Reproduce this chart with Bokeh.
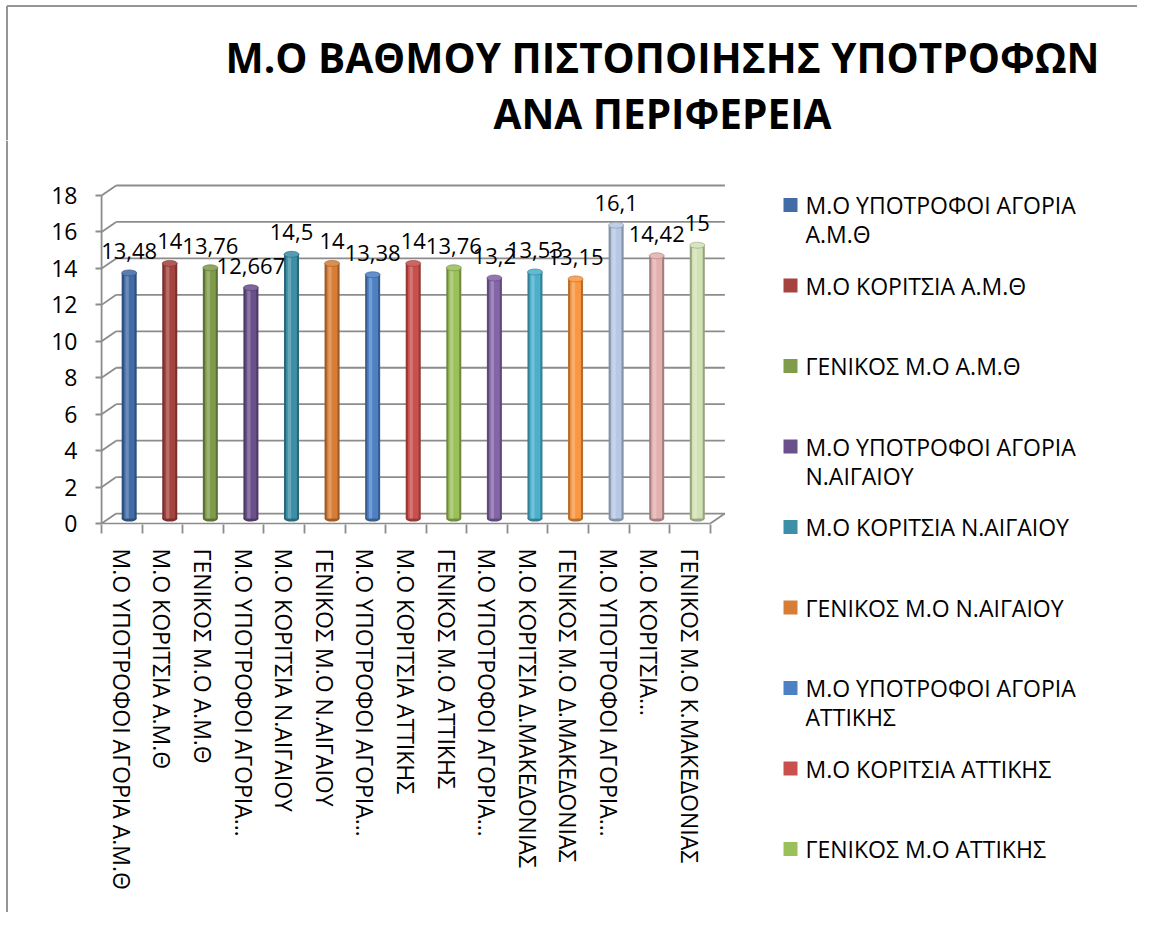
from bokeh.plotting import figure
from bokeh.layouts import column, row
from bokeh.models import Range1d, LinearAxis, FixedTicker, ColumnDataSource
from bokeh.embed import file_html
from bokeh.resources import INLINE
from bokeh.core.properties import value

# ---------------- data ----------------
title_lines = ["Μ.Ο ΒΑΘΜΟΥ ΠΙΣΤΟΠΟΙΗΣΗΣ ΥΠΟΤΡΟΦΩΝ", "ΑΝΑ ΠΕΡΙΦΕΡΕΙΑ"]

categories = [
    "Μ.Ο ΥΠΟΤΡΟΦΟΙ ΑΓΟΡΙΑ Α.Μ.Θ",
    "Μ.Ο ΚΟΡΙΤΣΙΑ Α.Μ.Θ",
    "ΓΕΝΙΚΟΣ Μ.Ο Α.Μ.Θ",
    "Μ.Ο ΥΠΟΤΡΟΦΟΙ ΑΓΟΡΙΑ Ν.ΑΙΓΑΙΟΥ",
    "Μ.Ο ΚΟΡΙΤΣΙΑ Ν.ΑΙΓΑΙΟΥ",
    "ΓΕΝΙΚΟΣ Μ.Ο Ν.ΑΙΓΑΙΟΥ",
    "Μ.Ο ΥΠΟΤΡΟΦΟΙ ΑΓΟΡΙΑ ΑΤΤΙΚΗΣ",
    "Μ.Ο ΚΟΡΙΤΣΙΑ ΑΤΤΙΚΗΣ",
    "ΓΕΝΙΚΟΣ Μ.Ο ΑΤΤΙΚΗΣ",
    "Μ.Ο ΥΠΟΤΡΟΦΟΙ ΑΓΟΡΙΑ Δ.ΜΑΚΕΔΟΝΙΑΣ",
    "Μ.Ο ΚΟΡΙΤΣΙΑ Δ.ΜΑΚΕΔΟΝΙΑΣ",
    "ΓΕΝΙΚΟΣ Μ.Ο Δ.ΜΑΚΕΔΟΝΙΑΣ",
    "Μ.Ο ΥΠΟΤΡΟΦΟΙ ΑΓΟΡΙΑ Κ.ΜΑΚΕΔΟΝΙΑΣ",
    "Μ.Ο ΚΟΡΙΤΣΙΑ Κ.ΜΑΚΕΔΟΝΙΑΣ",
    "ΓΕΝΙΚΟΣ Μ.Ο Κ.ΜΑΚΕΔΟΝΙΑΣ",
]

axis_labels = [
    "Μ.Ο ΥΠΟΤΡΟΦΟΙ ΑΓΟΡΙΑ Α.Μ.Θ",
    "Μ.Ο ΚΟΡΙΤΣΙΑ Α.Μ.Θ",
    "ΓΕΝΙΚΟΣ Μ.Ο Α.Μ.Θ",
    "Μ.Ο ΥΠΟΤΡΟΦΟΙ ΑΓΟΡΙΑ…",
    "Μ.Ο ΚΟΡΙΤΣΙΑ Ν.ΑΙΓΑΙΟΥ",
    "ΓΕΝΙΚΟΣ Μ.Ο Ν.ΑΙΓΑΙΟΥ",
    "Μ.Ο ΥΠΟΤΡΟΦΟΙ ΑΓΟΡΙΑ…",
    "Μ.Ο ΚΟΡΙΤΣΙΑ ΑΤΤΙΚΗΣ",
    "ΓΕΝΙΚΟΣ Μ.Ο ΑΤΤΙΚΗΣ",
    "Μ.Ο ΥΠΟΤΡΟΦΟΙ ΑΓΟΡΙΑ…",
    "Μ.Ο ΚΟΡΙΤΣΙΑ Δ.ΜΑΚΕΔΟΝΙΑΣ",
    "ΓΕΝΙΚΟΣ Μ.Ο Δ.ΜΑΚΕΔΟΝΙΑΣ",
    "Μ.Ο ΥΠΟΤΡΟΦΟΙ ΑΓΟΡΙΑ…",
    "Μ.Ο ΚΟΡΙΤΣΙΑ…",
    "ΓΕΝΙΚΟΣ Μ.Ο Κ.ΜΑΚΕΔΟΝΙΑΣ",
]

values = [13.48, 14, 13.76, 12.667, 14.5, 14, 13.38, 14, 13.76, 13.2,
          13.53, 13.15, 16.1, 14.42, 15]

colors = ["#416CA6", "#A5433F", "#809C4B", "#6B518B", "#3D8FA8", "#D87D36",
          "#4E80C4", "#C9504D", "#9BBF59", "#8465A8", "#4BB0CC", "#F99742",
          "#B7C8E4", "#E4AFAF", "#D2E2B4"]

# legend shows the first 9 series (wrapped as in the original)
legend_lines = [
    ["Μ.Ο ΥΠΟΤΡΟΦΟΙ ΑΓΟΡΙΑ", "Α.Μ.Θ"],
    ["Μ.Ο ΚΟΡΙΤΣΙΑ Α.Μ.Θ"],
    ["ΓΕΝΙΚΟΣ Μ.Ο Α.Μ.Θ"],
    ["Μ.Ο ΥΠΟΤΡΟΦΟΙ ΑΓΟΡΙΑ", "Ν.ΑΙΓΑΙΟΥ"],
    ["Μ.Ο ΚΟΡΙΤΣΙΑ Ν.ΑΙΓΑΙΟΥ"],
    ["ΓΕΝΙΚΟΣ Μ.Ο Ν.ΑΙΓΑΙΟΥ"],
    ["Μ.Ο ΥΠΟΤΡΟΦΟΙ ΑΓΟΡΙΑ", "ΑΤΤΙΚΗΣ"],
    ["Μ.Ο ΚΟΡΙΤΣΙΑ ΑΤΤΙΚΗΣ"],
    ["ΓΕΝΙΚΟΣ Μ.Ο ΑΤΤΙΚΗΣ"],
]

y_ticks = [0, 2, 4, 6, 8, 10, 12, 14, 16, 18]

# ---------------- layout / styling constants ----------------
FONT = "Open Sans"
GRID = "#8c8c8c"
BORDER = "#959595"
DX, DY = 0.36, 0.55      # 3D depth offset (x in category units, y in value units)
BW = 0.37                # cylinder width

PAGE_W = 1137
TOP_H = 140              # height of the title band
EDGE_W = 8               # strip holding the left border line
CHART_W = 736            # right edge of the chart block (px)
FRAME_L, FRAME_T = 95, 183
FRAME_W, FRAME_H = 631, 341
BOTTOM_B = 388
CHART_H = (FRAME_T - TOP_H) + FRAME_H + BOTTOM_B

TITLE_X = 662
TITLE_Y = [57, 113]

LEG_SQ_X = 790            # legend square centre (px)
LEG_TEXT_X = 805          # legend text left edge (px)
LEG_FIRST = 204.5         # first legend entry line (px)
LEG_PITCH = 80.5          # entry pitch (px)
LEG_LINE = 29             # wrapped-line pitch (px)


def mix(hex_color, other, f):
    h = hex_color.lstrip("#")
    r, g, b = (int(h[i:i + 2], 16) for i in (0, 2, 4))
    o = other.lstrip("#")
    r2, g2, b2 = (int(o[i:i + 2], 16) for i in (0, 2, 4))
    return "#%02x%02x%02x" % (round(r + (r2 - r) * f), round(g + (g2 - g) * f),
                              round(b + (b2 - b) * f))


def no_frame_align(f):
    if "frame_align" in f.properties():
        f.frame_align = False
    return f


def blank_fig(width, height, x_range, y_range):
    f = figure(width=width, height=height, x_range=x_range, y_range=y_range,
               x_axis_type=None, y_axis_type=None, min_border=0,
               tools="", toolbar_location=None, output_backend="svg")
    f.outline_line_color = None
    f.grid.visible = False
    f.background_fill_color = "white"
    f.border_fill_color = "white"
    return no_frame_align(f)


# ---------------- title band ----------------
top = blank_fig(PAGE_W, TOP_H, Range1d(0, PAGE_W), Range1d(TOP_H, 0))
top.segment(x0=[6.5, 6.5], y0=[5.5, 5.5], x1=[PAGE_W, 6.5], y1=[5.5, TOP_H],
            line_color=BORDER, line_width=2)
top.text(x=[TITLE_X] * len(title_lines), y=TITLE_Y, text=title_lines,
         text_align="center", text_baseline="middle", text_font=value(FONT),
         text_font_size="40.5px", text_font_style="bold", text_color="black")

# ---------------- left border strip ----------------
edge = blank_fig(EDGE_W, CHART_H, Range1d(0, EDGE_W), Range1d(TOP_H + CHART_H, TOP_H))
edge.segment(x0=[6.5], y0=[TOP_H], x1=[6.5], y1=[TOP_H + CHART_H],
             line_color=BORDER, line_width=2)

# ---------------- main chart ----------------
n = len(values)
idx = list(range(1, n + 1))
src = ColumnDataSource(dict(
    x=[k + DX / 2 for k in idx],
    xh=[k + DX / 2 - 0.05 for k in idx],
    bottom=[DY / 2] * n,
    top=[v + DY / 2 for v in values],
    color=colors,
    dark=[mix(c, "#000000", 0.28) for c in colors],
    light=[mix(c, "#ffffff", 0.22) for c in colors],
    cap=[mix(c, "#ffffff", 0.12) for c in colors],
    label=[("%g" % v).replace(".", ",") for v in values],
))

p = figure(frame_width=FRAME_W, frame_height=FRAME_H,
           x_range=Range1d(0.35, 15.9), y_range=Range1d(-0.05, 18.66),
           x_axis_type=None, y_axis_type=None,
           tools="", toolbar_location=None, output_backend="svg",
           min_border_left=FRAME_L - EDGE_W, min_border_top=FRAME_T - TOP_H,
           min_border_right=CHART_W - FRAME_L - FRAME_W,
           min_border_bottom=BOTTOM_B)
p.outline_line_color = None
p.background_fill_color = "white"
p.border_fill_color = "white"
no_frame_align(p)

left_x = 0.5
right_x = n + 0.5
p.segment(x0=[left_x] * len(y_ticks), y0=y_ticks,
          x1=[left_x + DX] * len(y_ticks), y1=[t + DY for t in y_ticks],
          line_color=GRID, line_width=1.8)
p.segment(x0=[left_x + DX] * len(y_ticks), y0=[t + DY for t in y_ticks],
          x1=[right_x + DX] * len(y_ticks), y1=[t + DY for t in y_ticks],
          line_color=GRID, line_width=1.8)
p.segment(x0=[left_x, left_x, right_x], y0=[0, 0, 0],
          x1=[left_x, right_x, right_x + DX], y1=[max(y_ticks), 0, DY],
          line_color=GRID, line_width=1.8)

p.ellipse(x="x", y="bottom", width=BW, height=6, height_units="screen",
          fill_color="dark", line_color=None, source=src)
p.vbar(x="x", bottom="bottom", top="top", width=BW, fill_color="dark",
       line_color=None, source=src)
p.vbar(x="x", bottom="bottom", top="top", width=BW * 0.72,
       fill_color="color", line_color=None, source=src)
p.vbar(x="xh", bottom="bottom", top="top", width=BW * 0.22,
       fill_color="light", line_color=None, source=src)
p.ellipse(x="x", y="top", width=BW, height=6, height_units="screen",
          fill_color="cap", line_color="dark", line_width=0.6, source=src)

p.text(x="x", y="top", text="label", source=src, text_align="center",
       text_baseline="middle", y_offset=-22, text_font=value(FONT),
       text_font_size="22px", text_color="black")

yaxis = LinearAxis(ticker=FixedTicker(ticks=y_ticks, minor_ticks=[]),
                   axis_line_color=None,
                   major_tick_in=6, major_tick_out=0,
                   major_tick_line_color=GRID, major_tick_line_width=1.8,
                   minor_tick_line_color=None,
                   major_label_standoff=18,
                   major_label_text_font=FONT,
                   major_label_text_font_size="23px",
                   major_label_text_color="black")
p.add_layout(yaxis, "left")

xaxis = LinearAxis(ticker=FixedTicker(ticks=idx,
                                      minor_ticks=[k - 0.5 for k in idx] + [n + 0.5]),
                   axis_line_color=None,
                   major_tick_in=0, major_tick_out=0,
                   minor_tick_in=0, minor_tick_out=9,
                   minor_tick_line_color=GRID, minor_tick_line_width=1.8,
                   major_label_overrides={k: lab for k, lab in zip(idx, axis_labels)},
                   major_label_orientation="vertical",
                   major_label_standoff=15,
                   major_label_text_font=FONT,
                   major_label_text_font_size="23px",
                   major_label_text_color="black")
p.add_layout(xaxis, "below")

# ---------------- legend panel ----------------
leg = blank_fig(PAGE_W - CHART_W, CHART_H, Range1d(CHART_W, PAGE_W),
                Range1d(TOP_H + CHART_H, TOP_H))
n_leg = len(legend_lines)
entry_y = [LEG_FIRST + i * LEG_PITCH for i in range(n_leg)]
leg.rect(x=[LEG_SQ_X] * n_leg, y=entry_y, width=14, height=14,
         fill_color=colors[:n_leg], line_color=None)
tx, ty, tt = [], [], []
for i, ln in enumerate(legend_lines):
    for j, s in enumerate(ln):
        tx.append(LEG_TEXT_X)
        ty.append(entry_y[i] + j * LEG_LINE)
        tt.append(s)
leg.text(x=tx, y=ty, text=tt, text_align="left", text_baseline="middle",
         text_font=value(FONT), text_font_size="23px", text_color="black")

layout = column(top, row(edge, p, leg, spacing=0), spacing=0)
open("out.html", "w").write(file_html(layout, INLINE))
